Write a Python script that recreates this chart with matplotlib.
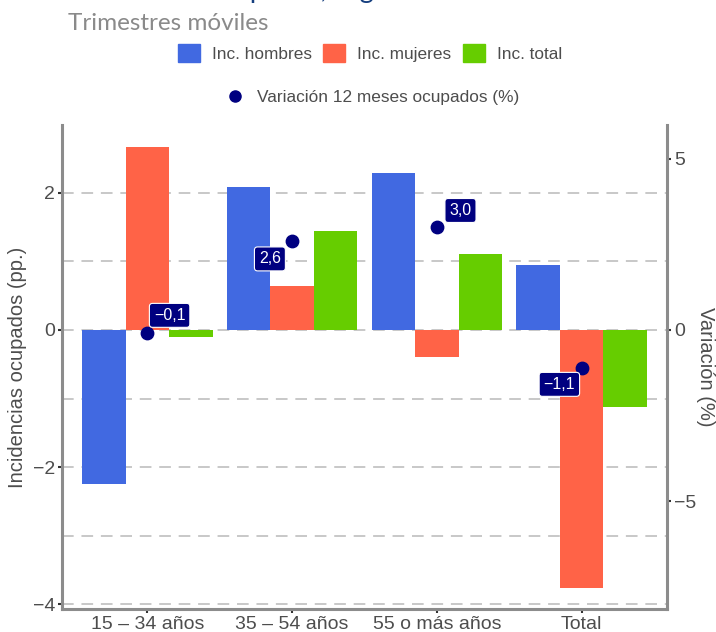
import matplotlib
matplotlib.use("Agg")
import matplotlib.pyplot as plt
from matplotlib.patches import Patch
from matplotlib.lines import Line2D
import numpy as np

categories = ["15 – 34 años", "35 – 54 años", "55 o más años", "Total"]
inc_hombres = [-2.25, 2.09, 2.29, 0.95]
inc_mujeres = [2.67, 0.64, -0.39, -3.77]
inc_total = [-0.10, 1.45, 1.11, -1.12]
variacion = [-0.1, 2.6, 3.0, -1.1]
label_offsets = [(16, 13), (-16, -13), (17, 12), (-16, -12)]

C_H = "#4169E1"
C_M = "#FF6347"
C_T = "#66CD00"
C_DOT = "#000080"
GRAY_TXT = "#4d4d4d"

plt.rcParams['font.family'] = ['Liberation Sans', 'DejaVu Sans']

fig = plt.figure(figsize=(7.16, 6.32), dpi=100)
L, R, T, B = 62, 667, 125, 609
W, H = 716, 632
ax = fig.add_axes([L / W, 1 - B / H, (R - L) / W, (B - T) / H])
ax2 = ax.twinx()

x = np.arange(len(categories))
bw = 0.30
ax.set_xlim(-0.59, 3.59)
ax.set_ylim(-4.07, 2.99)
ax2.set_ylim(-8.14, 5.98)

# grid
for gy in range(-4, 3):
    ax.axhline(gy, color="#c8c8c8", lw=1.4, ls=(0, (6, 4)), zorder=0)

ax.bar(x - bw, inc_hombres, bw, color=C_H, zorder=2)
ax.bar(x, inc_mujeres, bw, color=C_M, zorder=2)
ax.bar(x + bw, inc_total, bw, color=C_T, zorder=2)

ax2.scatter(x, variacion, s=80, color=C_DOT, zorder=5)
for xi, v, off in zip(x, variacion, label_offsets):
    txt = f"{v:.1f}".replace(".", ",").replace("-", "\u2212")
    ax2.annotate(txt, (xi, v), xytext=off, textcoords="offset points",
                 ha="center", va="center", color="white", fontsize=11.5,
                 bbox=dict(boxstyle="round,pad=0.28,rounding_size=0.2",
                           fc=C_DOT, ec="white", lw=0.8), zorder=6)

for a in (ax, ax2):
    for s in a.spines.values():
        s.set_visible(False)
ax.spines["left"].set_visible(True)
ax.spines["bottom"].set_visible(True)
ax2.spines["right"].set_visible(True)
for s in (ax.spines["left"], ax.spines["bottom"], ax2.spines["right"]):
    s.set_color("#8c8c8c")
    s.set_linewidth(2.2)

ax.set_yticks([-4, -2, 0, 2])
ax2.set_yticks([-5, 0, 5])
ax.set_xticks(x)
ax.set_xticklabels(categories)
ax.tick_params(axis="both", length=3, width=1.5, color="#333333",
               labelcolor=GRAY_TXT, labelsize=14, pad=2)
ax2.tick_params(axis="y", length=3, width=1.5, color="#333333",
                labelcolor=GRAY_TXT, labelsize=14, pad=2)

ax.set_ylabel("Incidencias ocupados (pp.)", fontsize=14.5, color=GRAY_TXT)
ax.yaxis.set_label_coords((17.5 - L) / (R - L), 0.5)
ax.yaxis.label.set_verticalalignment("center")
ax2.set_ylabel("Variación (%)", fontsize=14.5, color=GRAY_TXT, rotation=270)
ax2.yaxis.set_label_coords((705 - L) / (R - L), 0.5)
ax2.yaxis.label.set_verticalalignment("center")

# legends
h1 = [Patch(color=C_H, label="Inc. hombres"),
      Patch(color=C_M, label="Inc. mujeres"),
      Patch(color=C_T, label="Inc. total")]
leg1 = fig.legend(handles=h1, loc="center", bbox_to_anchor=(370 / W, 1 - 53 / H),
                  ncol=3, frameon=False, fontsize=12.4, handlelength=1.28,
                  handleheight=1.28, handletextpad=0.7, columnspacing=0.65,
                  borderpad=0, labelcolor=GRAY_TXT)
h2 = [Line2D([], [], marker="o", ls="none", color=C_DOT, markersize=8,
             label="Variación 12 meses ocupados (%)")]
leg2 = fig.legend(handles=h2, loc="center", bbox_to_anchor=(373 / W, 1 - 97 / H),
                  frameon=False, fontsize=12.4, handlelength=1.0,
                  handletextpad=0.8, borderpad=0, labelcolor=GRAY_TXT)

fig.text(68 / W, 1 - 30 / H, "Trimestres móviles", fontsize=17.5, color="#8a8a8a",
         family=["Lato", "DejaVu Sans"], va="baseline", ha="left")
fig.text(68 / W, 1 + 2.0 / H, "Incidencias ocupados, según edad", fontsize=19.5,
         color="#163f7f", family=["Lato", "DejaVu Sans"], va="baseline", ha="left")

fig.savefig("out.png", dpi=100)
